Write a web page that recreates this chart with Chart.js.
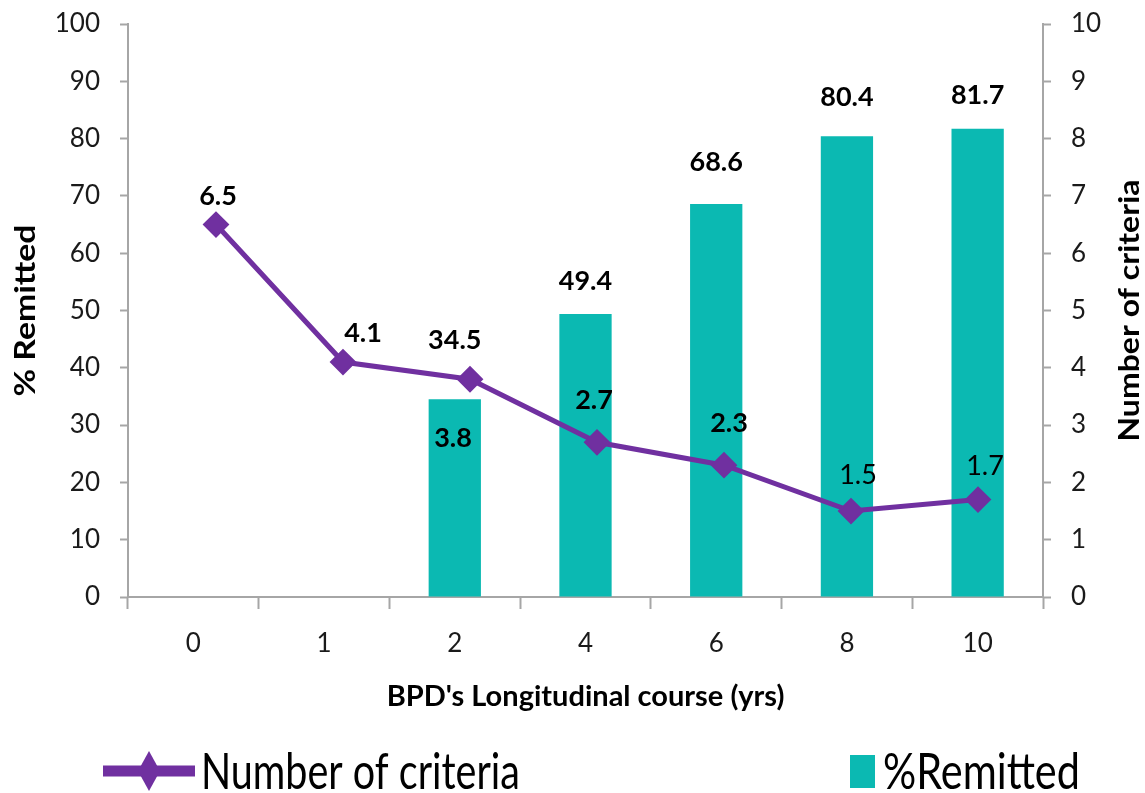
<!DOCTYPE html>
<html>
<head>
<meta charset="utf-8">
<script src="https://cdn.jsdelivr.net/npm/chart.js@4"></script>
<style>
  html, body { margin: 0; padding: 0; background: #fff; }
  canvas { display: block; }
</style>
</head>
<body>
<canvas id="myChart" width="1145" height="793"></canvas>
<script>
// data
const years = ['0', '1', '2', '4', '6', '8', '10'];
const remitted = [null, null, 34.5, 49.4, 68.6, 80.4, 81.7];
const criteria = [6.5, 4.1, 3.8, 2.7, 2.3, 1.5, 1.7];

const teal = '#0BB9B2';
const purple = '#7030A0';
const axisGrey = '#A6A6A6';

// where each value label sits relative to its mark (px)
const barLabelLift = [0, 0, 60, 34, 43, 40, 35];
const lineLabelShift = [[2, -29], [20, -30], [-17, 58], [-3, -43], [5, -43], [7, -37], [7, -34]];
const lineLabelBold = [true, true, true, true, true, false, false];

Chart.defaults.font.family = 'Lato';
Chart.defaults.color = '#1a1a1a';

function labelAt(ctx, text, cx, cy, size, bold) {
    ctx.font = (bold ? 'bold ' : '') + size + 'px Lato';
    ctx.fillText(text, cx, cy + 0.36 * size);
}

const valueLabels = {
    id: 'valueLabels',
    afterDatasetsDraw(chart) {
        const ctx = chart.ctx;
        ctx.save();
        ctx.fillStyle = '#000';
        ctx.textAlign = 'center';
        ctx.textBaseline = 'alphabetic';
        chart.getDatasetMeta(1).data.forEach((bar, i) => {
            if (remitted[i] == null) return;
            labelAt(ctx, remitted[i].toFixed(1), bar.x, bar.y - barLabelLift[i], 27, true);
        });
        chart.getDatasetMeta(0).data.forEach((pt, i) => {
            const s = lineLabelShift[i];
            labelAt(ctx, criteria[i].toFixed(1), pt.x + s[0], pt.y + s[1], 27, lineLabelBold[i]);
        });
        ctx.restore();
    }
};

// both value-axis titles read bottom-to-top and run a bit long in the original
function sideTitle(ctx, text, cx, cy, length) {
    ctx.save();
    ctx.translate(cx, cy);
    ctx.rotate(-Math.PI / 2);
    ctx.font = 'bold 28px Lato';
    const sx = length / ctx.measureText(text).width;
    ctx.scale(sx, 1);
    ctx.fillStyle = '#000';
    ctx.textAlign = 'center';
    ctx.textBaseline = 'middle';
    ctx.fillText(text, 0, 0);
    ctx.restore();
}

const axisTitles = {
    id: 'axisTitles',
    afterDraw(chart) {
        const area = chart.chartArea;
        const mid = (area.top + area.bottom) / 2;
        sideTitle(chart.ctx, '% Remitted', 26, mid, 172);
        sideTitle(chart.ctx, 'Number of criteria', 1130, mid, 262);
    }
};

function stretchedText(ctx, text, left, baseline, width, capHeight) {
    ctx.font = '40px Lato';
    const size = 40 * width / ctx.measureText(text).width;
    ctx.font = size + 'px Lato';
    ctx.save();
    ctx.translate(left, baseline);
    ctx.scale(1, capHeight / (0.72 * size));
    ctx.fillText(text, 0, 0);
    ctx.restore();
}

const bottomLegend = {
    id: 'bottomLegend',
    afterDraw(chart) {
        const ctx = chart.ctx;
        ctx.save();
        ctx.strokeStyle = purple;
        ctx.lineWidth = 11;
        ctx.beginPath();
        ctx.moveTo(103, 771);
        ctx.lineTo(195, 771);
        ctx.stroke();
        ctx.fillStyle = purple;
        ctx.beginPath();
        ctx.moveTo(149, 751);
        ctx.lineTo(160, 771);
        ctx.lineTo(149, 791);
        ctx.lineTo(138, 771);
        ctx.closePath();
        ctx.fill();
        ctx.fillStyle = teal;
        ctx.fillRect(850, 755, 25, 33);

        ctx.fillStyle = '#000';
        ctx.textAlign = 'left';
        ctx.textBaseline = 'alphabetic';
        stretchedText(ctx, 'Number of criteria', 201, 789, 319, 36);
        stretchedText(ctx, '%Remitted', 883, 789, 197, 36);
        ctx.restore();
    }
};

// the value axes should not push the plot down for their top label
function fixValueAxis(width) {
    return function(scale) {
        scale.width = width;
        scale.paddingTop = 0;
        scale.paddingBottom = 0;
    };
}

new Chart(document.getElementById('myChart'), {
    type: 'bar',
    data: {
        labels: years,
        datasets: [
            {
                type: 'line',
                label: 'Number of criteria',
                data: criteria.map((v, i) => ({x: i, y: v})),
                xAxisID: 'xLine',
                yAxisID: 'y1',
                borderColor: purple,
                backgroundColor: purple,
                borderWidth: 5,
                pointStyle: 'rectRot',
                pointRadius: 12,
                pointBorderWidth: 2,
                pointBackgroundColor: purple,
                pointBorderColor: purple,
                tension: 0,
                order: 0
            },
            {
                label: '%Remitted',
                data: remitted,
                backgroundColor: teal,
                borderWidth: 0,
                grouped: false,
                barPercentage: 0.4,
                categoryPercentage: 1,
                yAxisID: 'y',
                order: 1
            }
        ]
    },
    options: {
        responsive: false,
        animation: false,
        devicePixelRatio: 1,
        layout: { padding: { top: 24, bottom: 71, left: 0, right: 0 } },
        plugins: {
            legend: { display: false },
            tooltip: { enabled: false }
        },
        scales: {
            x: {
                offset: true,
                grid: {
                    offset: true,
                    drawOnChartArea: false,
                    tickLength: 12,
                    tickColor: axisGrey,
                    tickWidth: 2
                },
                border: { color: axisGrey, width: 2 },
                ticks: { font: { size: 26 }, padding: 19 },
                title: {
                    display: true,
                    text: "BPD's Longitudinal course (yrs)",
                    color: '#000',
                    font: { size: 29, weight: 'bold' },
                    padding: { top: 0, bottom: 8 }
                },
                afterFit(scale) { scale.height = 125; }
            },
            xLine: {
                type: 'linear',
                display: false,
                offset: false,
                grid: { offset: false },
                min: -0.6929,
                max: 6.5118
            },
            y: {
                position: 'left',
                min: 0,
                max: 100,
                ticks: { stepSize: 10, font: { size: 26 }, padding: 20 },
                grid: {
                    drawOnChartArea: false,
                    tickLength: 8,
                    tickColor: axisGrey,
                    tickWidth: 2
                },
                border: { color: axisGrey, width: 2 },
                afterFit: fixValueAxis(128)
            },
            y1: {
                position: 'right',
                min: 0,
                max: 10,
                ticks: { stepSize: 1, font: { size: 26 }, padding: 20 },
                grid: {
                    drawOnChartArea: false,
                    tickLength: 8,
                    tickColor: axisGrey,
                    tickWidth: 2
                },
                border: { color: axisGrey, width: 2 },
                afterFit: fixValueAxis(102)
            }
        }
    },
    plugins: [valueLabels, axisTitles, bottomLegend]
});
</script>
</body>
</html>
